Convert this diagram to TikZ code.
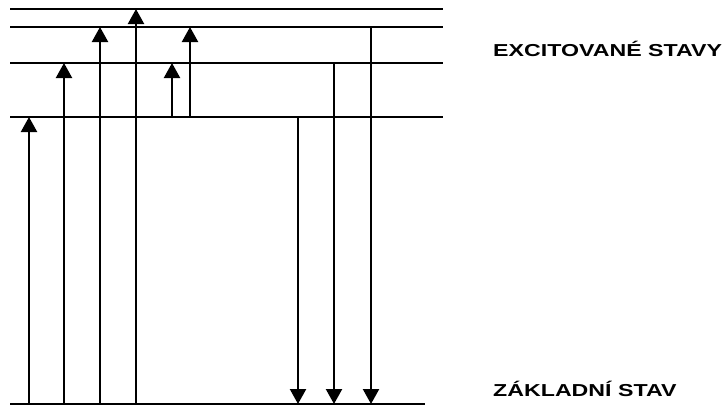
\documentclass[tikz,border=0pt]{standalone}
\usepackage{fontspec}
\setmainfont{Liberation Sans}
\usetikzlibrary{arrows.meta}
\tikzset{
  level/.style={line width=2.2pt},
  trans/.style={line width=2.2pt, -{Triangle[width=16pt,length=15pt]}},
  label/.style={anchor=west, inner sep=0pt, font=\fontsize{17.3}{19}\selectfont\bfseries},
}
\begin{document}
\begin{tikzpicture}[x=1pt,y=-1pt]
\useasboundingbox (0,0) rectangle (722,405);
% energy levels
\coordinate (L4a) at (10,9);   \coordinate (L4b) at (443,9);
\coordinate (L3a) at (10,27);  \coordinate (L3b) at (443,27);
\coordinate (L2a) at (10,63);  \coordinate (L2b) at (443,63);
\coordinate (L1a) at (10,117); \coordinate (L1b) at (443,117);
\coordinate (G0a) at (10,404); \coordinate (G0b) at (425,404);
\draw[level] (L4a) -- (L4b);
\draw[level] (L3a) -- (L3b);
\draw[level] (L2a) -- (L2b);
\draw[level] (L1a) -- (L1b);
\draw[level] (G0a) -- (G0b);
% absorption from the ground state
\coordinate (u1s) at (29,404);  \coordinate (u1e) at (29,117);
\coordinate (u2s) at (64,404);  \coordinate (u2e) at (64,63);
\coordinate (u3s) at (100,404); \coordinate (u3e) at (100,27);
\coordinate (u4s) at (136,404); \coordinate (u4e) at (136,9);
\draw[trans] (u1s) -- (u1e);
\draw[trans] (u2s) -- (u2e);
\draw[trans] (u3s) -- (u3e);
\draw[trans] (u4s) -- (u4e);
% excitation between excited states
\coordinate (u5s) at (172,117); \coordinate (u5e) at (172,63);
\coordinate (u6s) at (190,117); \coordinate (u6e) at (190,27);
\draw[trans] (u5s) -- (u5e);
\draw[trans] (u6s) -- (u6e);
% emission to the ground state
\coordinate (d1s) at (298,117); \coordinate (d1e) at (298,404);
\coordinate (d2s) at (334,63);  \coordinate (d2e) at (334,404);
\coordinate (d3s) at (371,27);  \coordinate (d3e) at (371,404);
\draw[trans] (d1s) -- (d1e);
\draw[trans] (d2s) -- (d2e);
\draw[trans] (d3s) -- (d3e);
% labels
\node[label] (exc) at (493,49) {\scalebox{1.34}[1]{EXCITOVANÉ STAVY}};
\node[label] (gnd) at (493,389) {\scalebox{1.34}[1]{ZÁKLADNÍ STAV}};
\end{tikzpicture}
\end{document}
